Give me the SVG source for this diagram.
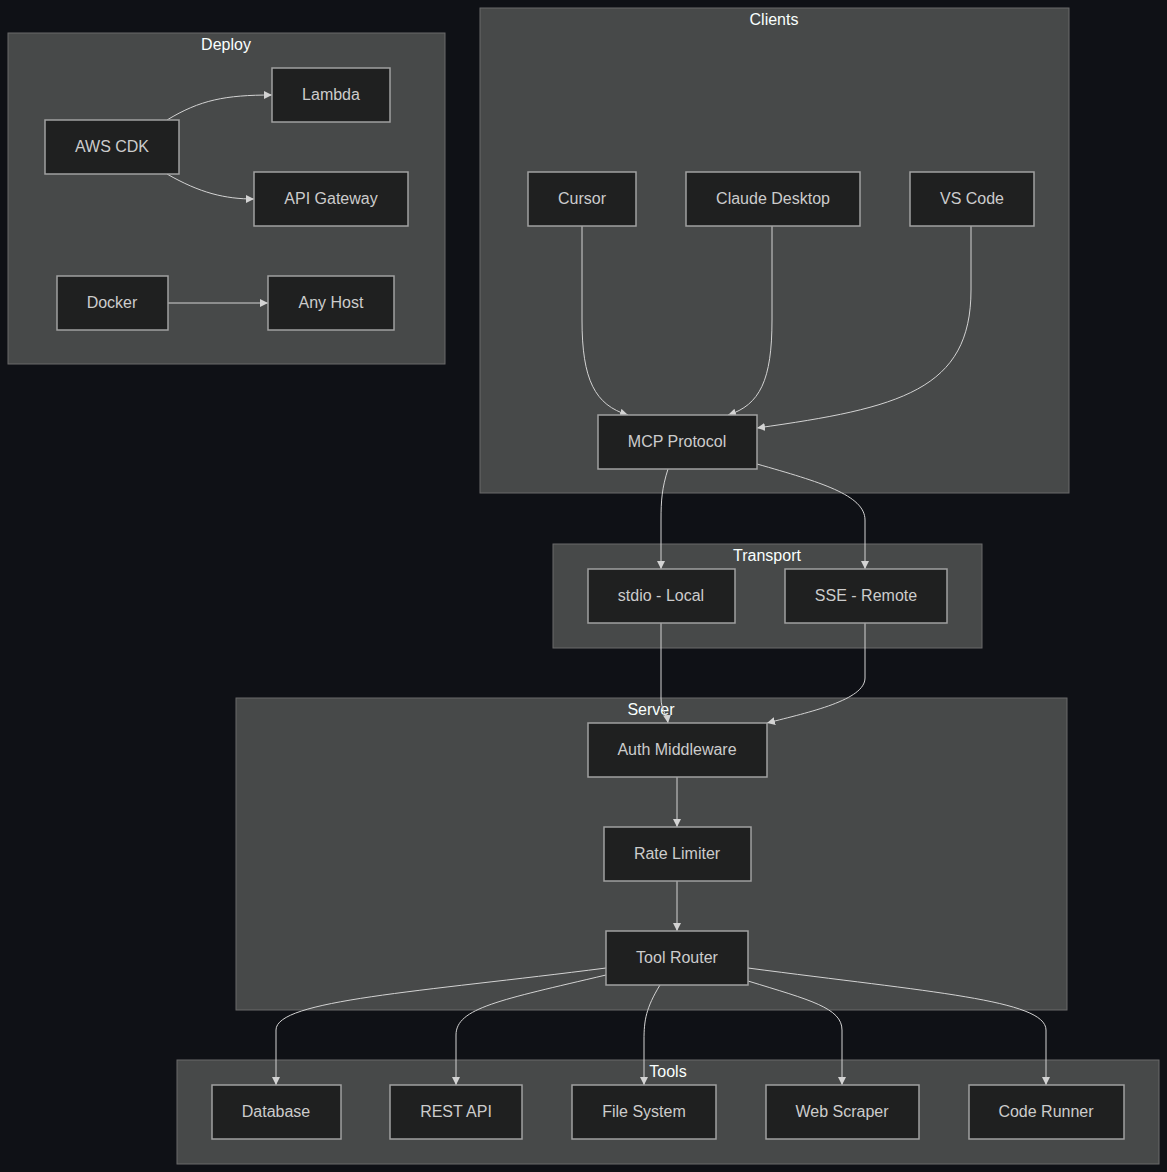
<svg xmlns="http://www.w3.org/2000/svg" width="1167" height="1172" viewBox="0 0 1167 1172">
<defs>
<marker id="arr" viewBox="0 0 10 10" refX="10" refY="5" markerWidth="8" markerHeight="8" markerUnits="userSpaceOnUse" orient="auto">
<path d="M0,0 L10,5 L0,10 z" fill="#d3d3d3"/>
</marker>
</defs>
<style>
.cl{fill:#474949;stroke:#6a6a6a;stroke-width:1}
.ct{fill:#f9fffe;font-family:"Liberation Sans",Arial,sans-serif;font-size:16px;text-anchor:middle}
.nd rect{fill:#1f2020;stroke:#a0a0a0;stroke-width:1.5}
.nd text{fill:#cccccc;font-family:"Liberation Sans",Arial,sans-serif;font-size:16px;text-anchor:middle;dominant-baseline:central}
.ed path{fill:none;stroke:#d3d3d3;stroke-width:1;marker-end:url(#arr)}
</style>
<rect width="1167" height="1172" fill="#0f1116"/>
<g id="clusters">
<rect class="cl" x="8" y="33" width="437" height="331"/>
<text class="ct" x="226" y="50">Deploy</text>
<rect class="cl" x="480" y="8" width="589" height="485"/>
<text class="ct" x="774" y="25">Clients</text>
<rect class="cl" x="553" y="544" width="429" height="104"/>
<text class="ct" x="767" y="561">Transport</text>
<rect class="cl" x="236" y="698" width="831" height="312"/>
<text class="ct" x="651" y="715">Server</text>
<rect class="cl" x="177" y="1060" width="982" height="104"/>
<text class="ct" x="668" y="1077">Tools</text>
</g>
<g id="connectors" class="ed">
<path d="M167,120 C200,100 225,95 272,95"/>
<path d="M167,174 C200,193 225,199 254,199"/>
<path d="M168,303 L268,303"/>
<path d="M582,226 L582,320 C582,380 595,405 628,415"/>
<path d="M772,226 L772,320 C772,380 760,405 728,415"/>
<path d="M971,226 L971,290 C971,390 900,408 757,428"/>
<path d="M668,469 C662,488 661,500 661,520 L661,569"/>
<path d="M757,464 C820,482 865,495 865,520 L865,569"/>
<path d="M661,623 L661,698 C661,710 667,715 668,723"/>
<path d="M865,623 L865,678 C865,700 810,712 767,723"/>
<path d="M677,777 L677,827"/>
<path d="M677,881 L677,931"/>
<path d="M606,968 C420,992 276,1000 276,1030 L276,1085"/>
<path d="M606,975 C500,1000 456,1008 456,1035 L456,1085"/>
<path d="M660,985 C646,1008 644,1020 644,1040 L644,1085"/>
<path d="M748,981 C810,1000 842,1008 842,1030 L842,1085"/>
<path d="M748,968 C930,992 1046,1000 1046,1030 L1046,1085"/>
</g>
<g id="lambda" class="nd"><rect x="272" y="68" width="118" height="54"/><text x="331" y="94">Lambda</text></g>
<g id="awscdk" class="nd"><rect x="45" y="120" width="134" height="54"/><text x="112" y="146">AWS CDK</text></g>
<g id="apigw" class="nd"><rect x="254" y="172" width="154" height="54"/><text x="331" y="198">API Gateway</text></g>
<g id="docker" class="nd"><rect x="57" y="276" width="111" height="54"/><text x="112" y="302">Docker</text></g>
<g id="anyhost" class="nd"><rect x="268" y="276" width="126" height="54"/><text x="331" y="302">Any Host</text></g>
<g id="cursor" class="nd"><rect x="528" y="172" width="108" height="54"/><text x="582" y="198">Cursor</text></g>
<g id="claude" class="nd"><rect x="686" y="172" width="174" height="54"/><text x="773" y="198">Claude Desktop</text></g>
<g id="vscode" class="nd"><rect x="910" y="172" width="124" height="54"/><text x="972" y="198">VS Code</text></g>
<g id="mcp" class="nd"><rect x="598" y="415" width="159" height="54"/><text x="677" y="441">MCP Protocol</text></g>
<g id="stdio" class="nd"><rect x="588" y="569" width="147" height="54"/><text x="661" y="595">stdio - Local</text></g>
<g id="sse" class="nd"><rect x="785" y="569" width="162" height="54"/><text x="866" y="595">SSE - Remote</text></g>
<g id="auth" class="nd"><rect x="588" y="723" width="179" height="54"/><text x="677" y="749">Auth Middleware</text></g>
<g id="rate" class="nd"><rect x="604" y="827" width="147" height="54"/><text x="677" y="853">Rate Limiter</text></g>
<g id="router" class="nd"><rect x="606" y="931" width="142" height="54"/><text x="677" y="957">Tool Router</text></g>
<g id="database" class="nd"><rect x="212" y="1085" width="129" height="54"/><text x="276" y="1111">Database</text></g>
<g id="rest" class="nd"><rect x="390" y="1085" width="132" height="54"/><text x="456" y="1111">REST API</text></g>
<g id="fs" class="nd"><rect x="572" y="1085" width="144" height="54"/><text x="644" y="1111">File System</text></g>
<g id="web" class="nd"><rect x="766" y="1085" width="153" height="54"/><text x="842" y="1111">Web Scraper</text></g>
<g id="code" class="nd"><rect x="969" y="1085" width="155" height="54"/><text x="1046" y="1111">Code Runner</text></g>
</svg>
